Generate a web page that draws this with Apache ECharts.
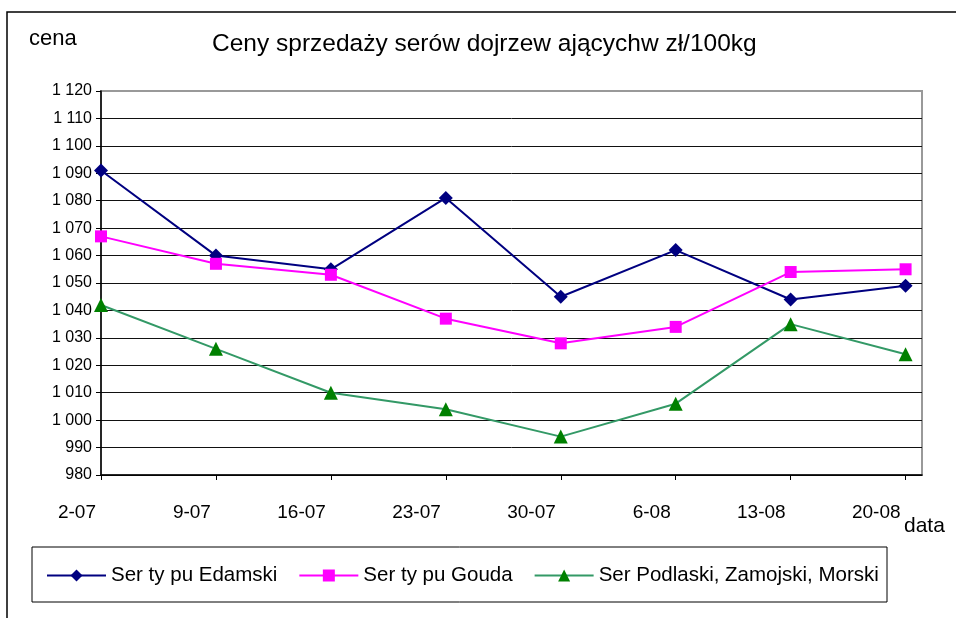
<!DOCTYPE html>
<html>
<head>
<meta charset="utf-8">
<title>Ceny sprzedaży serów</title>
<script src="https://cdn.jsdelivr.net/npm/echarts@6/dist/echarts.min.js"></script>
<style>
  html, body { margin: 0; padding: 0; background: #fff; }
  #chart { width: 956px; height: 618px; }
</style>
</head>
<body>
<div id="chart"></div>
<script>
// daty notowań (dni od 2-07) i etykiety osi X
const days = [0, 7, 14, 21, 28, 35, 42, 49]
const dateLabels = ['2-07', '9-07', '16-07', '23-07', '30-07', '6-08', '13-08', '20-08']

// ceny w zł/100kg
const edamski = [1091, 1060, 1055, 1081, 1045, 1062, 1044, 1049]
const gouda = [1067, 1057, 1053, 1037, 1028, 1034, 1054, 1055]
const podlaski = [1042, 1026, 1010, 1004, 994, 1006, 1035, 1024]

const seriesNames = ['Ser ty pu Edamski', 'Ser ty pu Gouda', 'Ser Podlaski, Zamojski, Morski']

const font = 'Liberation Sans, Arial, sans-serif'

function toPoints(values) {
  return values.map((v, i) => [days[i], v])
}

// format "1 120"
function fmtThousands(v) {
  return String(v).replace(/\B(?=(\d{3})+(?!\d))/g, ' ')
}

const chart = echarts.init(document.getElementById('chart'))

const option = {
  animation: false,
  backgroundColor: '#fff',
  textStyle: { fontFamily: font },
  title: {
    text: 'Ceny sprzedaży serów dojrzew ającychw zł/100kg',
    left: 212,
    top: 32,
    padding: 0,
    textStyle: { fontFamily: font, fontSize: 24.5, fontWeight: 'normal', color: '#000' }
  },
  grid: {
    left: 101,
    right: 34,
    top: 91,
    bottom: 143,
    show: true,
    borderColor: '#999',
    borderWidth: 2,
    backgroundColor: '#fff'
  },
  legend: {
    left: 46,
    top: 565,
    padding: 0,
    itemWidth: 59,
    itemHeight: 15,
    itemGap: 21,
    textStyle: { fontFamily: font, fontSize: 20.5, color: '#000' },
    data: seriesNames
  },
  xAxis: {
    type: 'value',
    min: 0,
    max: 50,
    interval: 7,
    axisLine: { lineStyle: { color: '#000', width: 1.5 } },
    axisTick: { length: 5, lineStyle: { color: '#000' }, customValues: days },
    axisLabel: {
      customValues: days,
      formatter: v => dateLabels[days.indexOf(v)] || '',
      align: 'right',
      padding: [0, 5, 0, 0],
      margin: 28,
      fontSize: 19,
      color: '#000',
      fontFamily: font
    },
    splitLine: { show: false }
  },
  yAxis: {
    type: 'value',
    min: 980,
    max: 1120,
    interval: 10,
    axisLine: { show: true, lineStyle: { color: '#000', width: 1.5 } },
    axisTick: { show: true, length: 5, lineStyle: { color: '#000' } },
    axisLabel: {
      formatter: fmtThousands,
      margin: 9,
      fontSize: 16,
      color: '#000',
      fontFamily: font
    },
    splitLine: { show: true, showMaxLine: false, lineStyle: { color: '#111', width: 1 } }
  },
  series: [
    {
      name: seriesNames[0],
      type: 'line',
      data: toPoints(edamski),
      symbol: 'diamond',
      symbolSize: 14,
      lineStyle: { color: '#000080', width: 2 },
      itemStyle: { color: '#000080' }
    },
    {
      name: seriesNames[1],
      type: 'line',
      data: toPoints(gouda),
      symbol: 'rect',
      symbolSize: 12,
      lineStyle: { color: '#ff00ff', width: 2 },
      itemStyle: { color: '#ff00ff' }
    },
    {
      name: seriesNames[2],
      type: 'line',
      data: toPoints(podlaski),
      symbol: 'triangle',
      symbolSize: 14,
      lineStyle: { color: '#339966', width: 2 },
      itemStyle: { color: '#008000' }
    }
  ],
  graphic: [
    {
      type: 'rect',
      shape: { x: 7, y: 12, width: 1000, height: 700 },
      style: { fill: 'none', stroke: '#000', lineWidth: 1.5 },
      silent: true,
      z: -1
    },
    {
      type: 'rect',
      shape: { x: 32, y: 547, width: 855, height: 55 },
      style: { fill: 'none', stroke: '#000', lineWidth: 1 },
      silent: true
    },
    {
      type: 'text',
      left: 29,
      top: 28,
      style: { text: 'cena', font: '22px ' + font, fill: '#000' }
    },
    {
      type: 'text',
      left: 904,
      top: 516,
      style: { text: 'data', font: '21px ' + font, fill: '#000' }
    }
  ]
}

chart.setOption(option)
</script>
</body>
</html>
